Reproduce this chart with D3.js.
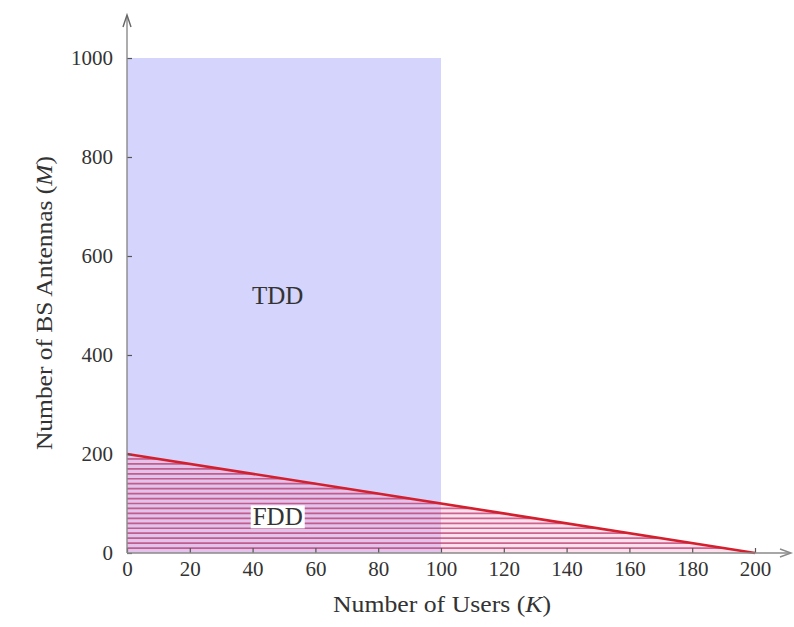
<!DOCTYPE html>
<html>
<head>
<meta charset="utf-8">
<script src="https://cdn.jsdelivr.net/npm/d3@7"></script>
<style>
  html, body { margin: 0; padding: 0; background: #fff; }
  svg { display: block; }
  text { font-family: "Liberation Serif", "DejaVu Serif", serif; fill: #333; }
</style>
</head>
<body>
<svg id="chart" width="794" height="627"></svg>
<script>
// ---- data ----
const xTicks = [0, 20, 40, 60, 80, 100, 120, 140, 160, 180, 200];
const yTicks = [0, 200, 400, 600, 800, 1000];
const tddRegion = { kMax: 100, mMax: 1000 };          // TDD feasible rectangle
const boundaryK = [0, 200];                            // FDD boundary: M + K = 200
const boundaryM = [200, 0];
const hatchLevels = [10, 20, 30, 40, 50, 60, 70, 80, 90, 100, 110, 120, 130, 140, 150, 160, 170, 180, 190];
const regionLabels = [
  { text: "TDD", k: 48, m: 520, box: false },
  { text: "FDD", k: 48, m: 73, box: true }
];

// ---- layout ----
const svg = d3.select("#chart");
const x = d3.scaleLinear().domain([0, 200]).range([127, 755]);
const y = d3.scaleLinear().domain([0, 1000]).range([553, 58]);
const axisColor = "#8a8a8a";

// TDD rectangle
svg.append("rect")
  .attr("x", x(0)).attr("y", y(tddRegion.mMax))
  .attr("width", x(tddRegion.kMax) - x(0))
  .attr("height", y(0) - y(tddRegion.mMax))
  .attr("fill", "#d4d4fc");

// FDD triangle fill (light pink)
const tri = [[boundaryK[0], boundaryM[0]], [boundaryK[1], boundaryM[1]], [0, 0]];
svg.append("path")
  .attr("d", d3.line().x(d => x(d[0])).y(d => y(d[1]))(tri) + "Z")
  .attr("fill", "#ff9ec8").attr("fill-opacity", 0.32);

// hatch lines
const kAt = m => 200 - m;
svg.append("g").selectAll("line").data(hatchLevels).join("line")
  .attr("x1", x(0)).attr("x2", d => x(kAt(d)))
  .attr("y1", d => y(d)).attr("y2", d => y(d))
  .attr("stroke", "#b83a6e").attr("stroke-opacity", 0.75).attr("stroke-width", 1.7);

// boundary line
svg.append("path")
  .attr("d", d3.line().x((d, i) => x(boundaryK[i])).y(d => y(d))(boundaryM))
  .attr("stroke", "#d41f2d").attr("stroke-width", 2.6).attr("fill", "none");

// axes
const gx = svg.append("g").attr("transform", `translate(0,${y(0)})`)
  .call(d3.axisBottom(x).tickValues(xTicks).tickFormat(d3.format("d"))
    .tickSizeInner(-5).tickSizeOuter(0).tickPadding(8));
const gy = svg.append("g").attr("transform", `translate(${x(0)},0)`)
  .call(d3.axisLeft(y).tickValues(yTicks).tickFormat(d3.format("d"))
    .tickSizeInner(-5).tickSizeOuter(0).tickPadding(14));
[gx, gy].forEach(g => {
  g.select(".domain").remove();
  g.selectAll(".tick line").attr("stroke", "#555").attr("stroke-width", 1.2);
  g.selectAll(".tick text").attr("font-size", 21).attr("fill", "#444")
    .attr("font-family", "'Liberation Serif', serif");
});

// axis lines with arrows
svg.append("line").attr("x1", x(0)).attr("y1", y(0)).attr("x2", 790).attr("y2", y(0))
  .attr("stroke", axisColor).attr("stroke-width", 1.4);
svg.append("path").attr("d", `M780,${y(0) - 4} L791,${y(0)} L780,${y(0) + 4}`)
  .attr("stroke", axisColor).attr("stroke-width", 1.4).attr("fill", "none");
svg.append("line").attr("x1", x(0)).attr("y1", y(0)).attr("x2", x(0)).attr("y2", 16)
  .attr("stroke", axisColor).attr("stroke-width", 1.4);
svg.append("path").attr("d", `M${x(0) - 4},27 L${x(0)},15 L${x(0) + 4},27`)
  .attr("stroke", "#666").attr("stroke-width", 1.4).attr("fill", "none");

// region labels
regionLabels.forEach(l => {
  const t = svg.append("text")
    .attr("x", x(l.k)).attr("y", y(l.m))
    .attr("text-anchor", "middle").attr("dominant-baseline", "central")
    .attr("font-size", 25).attr("fill", "#333")
    .text(l.text);
  if (l.box) {
    const bb = t.node().getBBox();
    svg.insert("rect", () => t.node())
      .attr("x", bb.x - 2).attr("y", bb.y + 2)
      .attr("width", bb.width + 4).attr("height", bb.height - 4)
      .attr("fill", "#fff");
  }
});

// axis titles
const xt = svg.append("text").attr("x", 442).attr("y", 612)
  .attr("text-anchor", "middle").attr("font-size", 23)
  .attr("textLength", 218).attr("lengthAdjust", "spacingAndGlyphs");
xt.append("tspan").text("Number of Users (");
xt.append("tspan").attr("font-style", "italic").text("K");
xt.append("tspan").text(")");

const yt = svg.append("text").attr("transform", "translate(52,303) rotate(-90)")
  .attr("text-anchor", "middle").attr("font-size", 23)
  .attr("textLength", 294).attr("lengthAdjust", "spacingAndGlyphs");
yt.append("tspan").text("Number of BS Antennas (");
yt.append("tspan").attr("font-style", "italic").text("M");
yt.append("tspan").text(")");
</script>
</body>
</html>
